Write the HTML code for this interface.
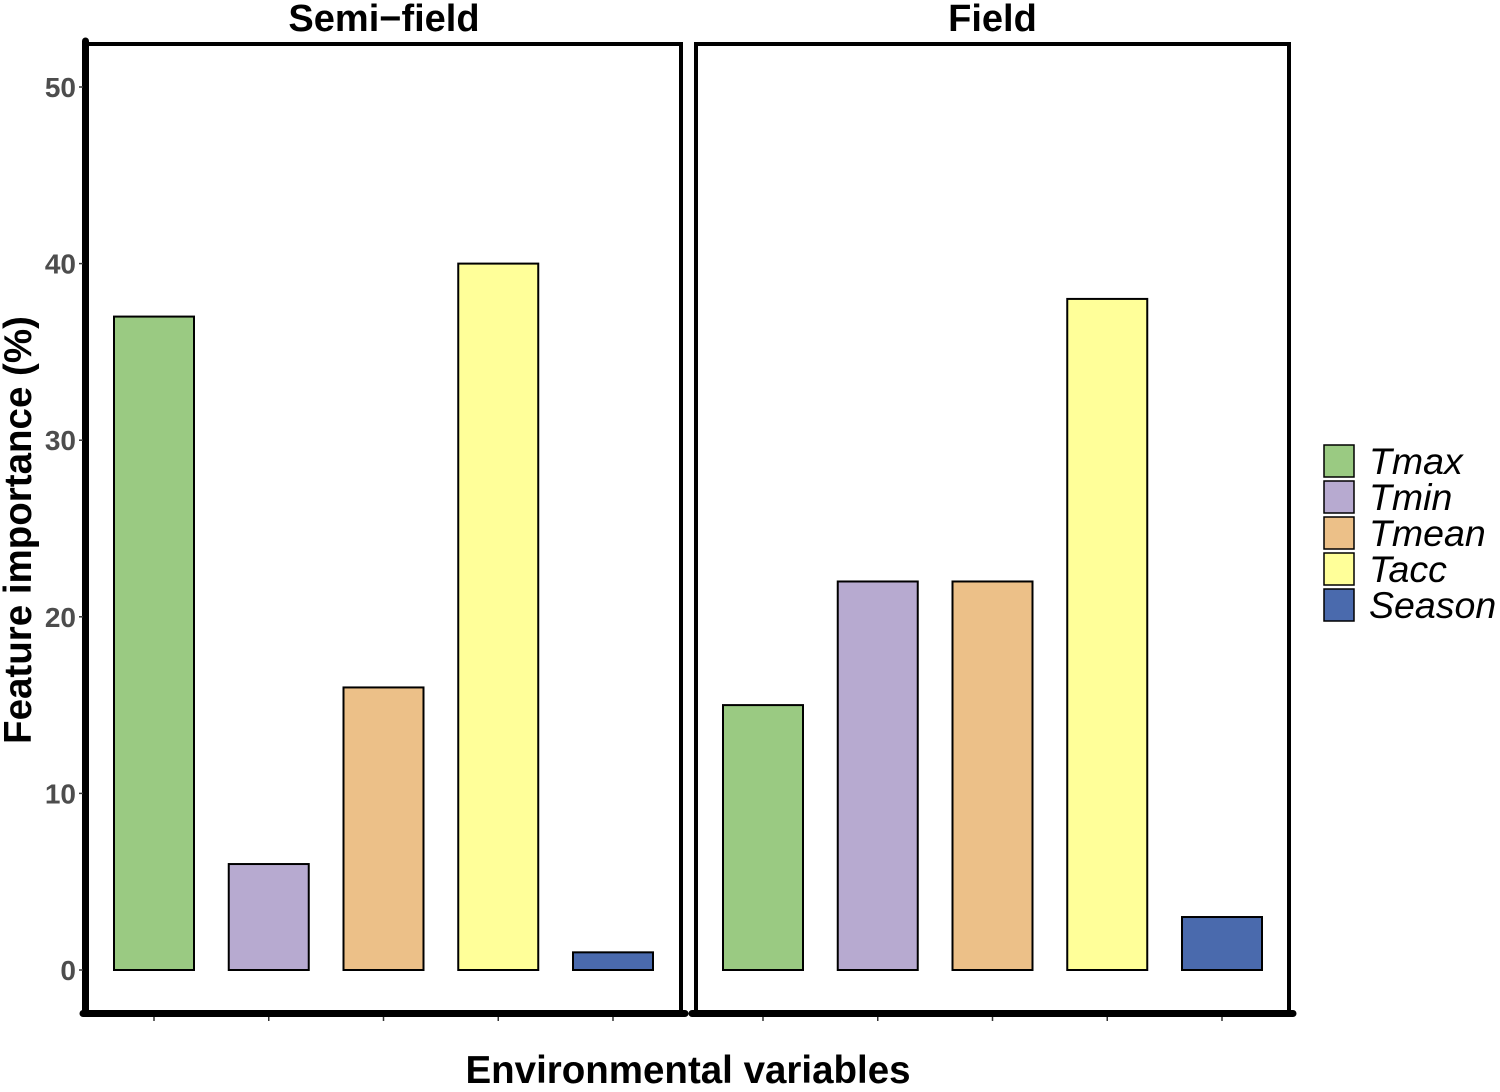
<!DOCTYPE html>
<html><head><meta charset="utf-8"><style>
body{margin:0;background:#fff;}
svg text{font-family:"Liberation Sans",Arial,sans-serif;}
</style></head><body>
<svg id="chart" width="1500" height="1087" xmlns="http://www.w3.org/2000/svg">
<g id="g"></g>
</svg>
<script>
const categories = ["Tmax","Tmin","Tmean","Tacc","Season"];
const colors = ["#9aca82","#b7aad0","#ecc088","#ffff99","#4a6aad"];
const panels = ["Semi\u2212field","Field"];
const semiValues = [37,6,16,40,1];
const fieldValues = [15,22,22,38,3];
const yTicks = [0,10,20,30,40,50];

const NS="http://www.w3.org/2000/svg";
const g=document.getElementById('g');
function el(t,a,p){const e=document.createElementNS(NS,t);for(const k in a)e.setAttribute(k,a[k]);(p||g).appendChild(e);return e;}
const y=v=>970-v*17.66;
const panelX=[[87,681],[696,1289]];
const xBand=(p,i)=>panelX[p][0]+67+i*114.75;
[semiValues,fieldValues].forEach((vals,p)=>{
  const [x0,x1]=panelX[p];
  const box=el('rect',{x:x0,y:44,width:x1-x0,height:969,fill:'none',stroke:'#000','stroke-width':4});
  
  
  const t=el('text',{x:(x0+x1)/2,y:31,'text-anchor':'middle','font-size':38,'font-weight':'bold'});
  t.textContent=panels[p];
  
  
  vals.forEach((v,i)=>{
    const cx=xBand(p,i);
    const r=el('rect',{x:cx-40,y:y(v),width:80,height:y(0)-y(v),fill:colors[i],stroke:'#000','stroke-width':2});
    
    
    const tk=el('line',{x1:cx,x2:cx,y1:1017,y2:1021,stroke:'#333','stroke-width':1.5});
    
    
  });
  const ax=el('line',{x1:x0-4,x2:x1+4,y1:1013.5,y2:1013.5,stroke:'#000','stroke-width':7,'stroke-linecap':'round'});
  
  
});
const ya=el('line',{x1:85.5,x2:85.5,y1:41,y2:1013,stroke:'#000','stroke-width':7,'stroke-linecap':'round'});


yTicks.forEach(v=>{
  const l=el('line',{x1:79,x2:83,y1:y(v),y2:y(v),stroke:'#333','stroke-width':1.5});
  
  
  const t=el('text',{x:76,y:y(v)+10,'text-anchor':'end','font-size':28,'font-weight':'bold',fill:'#4d4d4d'});
  t.textContent=v;
  
  
});
const yt=el('text',{x:0,y:0,transform:'translate(31,530) rotate(-90)','text-anchor':'middle','font-size':38.5,'font-weight':'bold'});
yt.textContent='Feature importance (%)';


const xt=el('text',{x:688,y:1083,'text-anchor':'middle','font-size':38.5,'font-weight':'bold'});
xt.textContent='Environmental variables';


categories.forEach((c,i)=>{
  const yy=445+i*36;
  const k=el('rect',{x:1324,y:yy,width:30,height:32,fill:colors[i],stroke:'#000','stroke-width':1.5});
  
  
  const t=el('text',{x:1369,y:yy+29,'font-size':37.5,'font-style':'italic'});
  t.textContent=c;
  
  
});
</script>
</body></html>
